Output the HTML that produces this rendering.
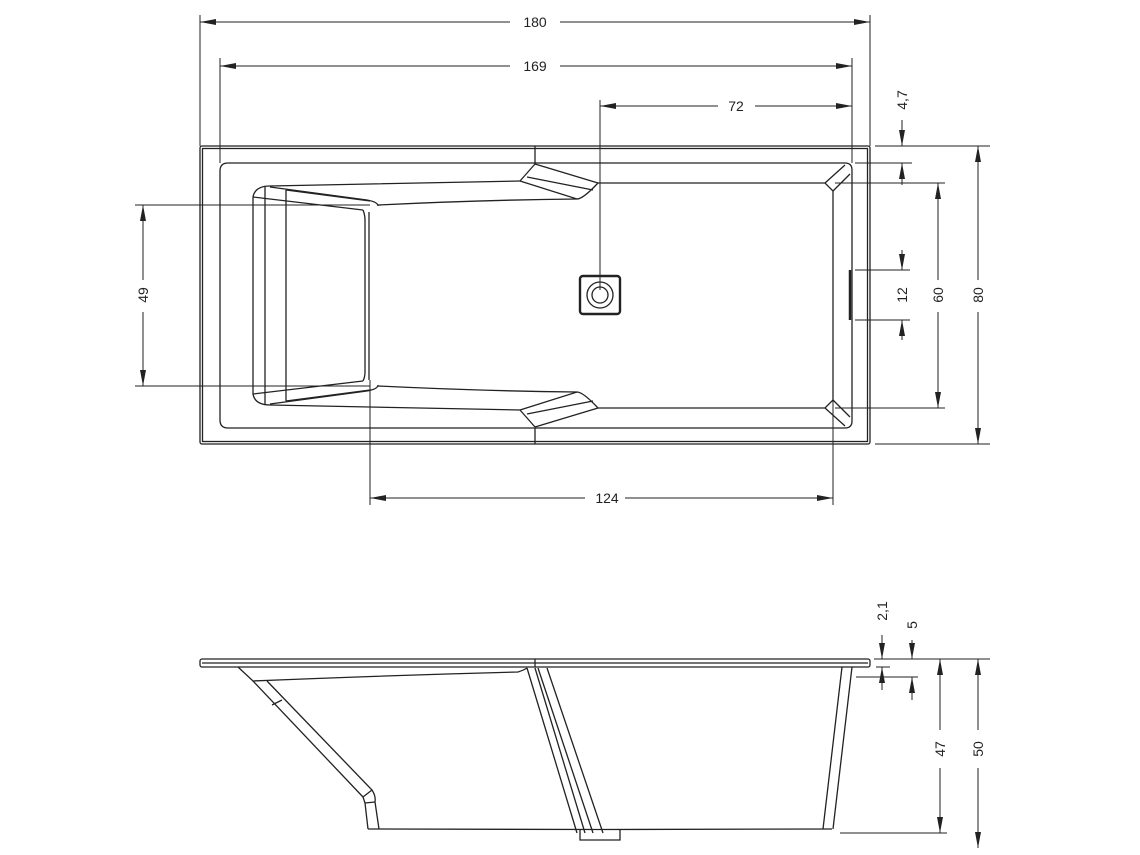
<!DOCTYPE html>
<html><head><meta charset="utf-8"><style>
html,body{margin:0;padding:0;background:#fff;}
svg{display:block;}
text{font-family:"Liberation Sans",sans-serif;font-size:14px;fill:#222;}
</style></head><body>
<svg width="1140" height="855" viewBox="0 0 1140 855" xmlns="http://www.w3.org/2000/svg">
<defs>
<marker id="a" viewBox="0 0 16 6" refX="16" refY="3" markerWidth="16" markerHeight="6" markerUnits="userSpaceOnUse" orient="auto-start-reverse">
<path d="M0,0 L16,3 L0,6 z" fill="#222"/>
</marker>
</defs>
<g fill="none" stroke="#222" stroke-width="1.3">
<!-- TOP VIEW -->
<rect x="200" y="146" width="670" height="298" rx="2"/>
<rect x="202.5" y="148.5" width="665" height="293"/>
<line x1="535" y1="146" x2="535" y2="164"/>
<line x1="535" y1="428" x2="535" y2="444"/>
<path d="M535,163 H845 Q852,163 852,170 V421 Q852,428 845,428 H535"/>
<path d="M535,163 H228 Q220,163 220,171 V420 Q220,428 228,428 H535"/>
<path d="M535,164 L520,181"/>
<path d="M535,164 L598,183"/>
<path d="M527,177 L593,190"/>
<path d="M520,181 L577,199 Q583,199 598,183"/>
<path d="M535,427 L520,410"/>
<path d="M535,427 L598,408"/>
<path d="M527,414 L593,401"/>
<path d="M520,410 L577,392 Q583,392 598,408"/>
<path d="M598,183 H825 L833,191 V400 L825,408 H598"/>
<path d="M825,183 L845,165 M833,191 L850,174"/>
<path d="M825,408 L845,426 M833,400 L850,417"/>
<path d="M520,181 Q400,183 270,186 Q255,186 253,197 V394 Q255,405 270,405 Q400,408 520,410"/>
<line x1="265" y1="187" x2="265" y2="404"/>
<line x1="286" y1="190" x2="286" y2="401"/>
<path d="M253,197 L363,210 M270,187 L367,200 M286,190 L370,201"/>
<path d="M253,394 L363,381 M270,404 L367,391 M286,401 L370,390"/>
<path d="M367,200 Q378,202 378,206 M363,210 Q365,215 365,220 V372 Q365,377 363,381"/>
<line x1="369" y1="212" x2="369" y2="380"/>
<path d="M367,391 Q378,389 378,385"/>
<path d="M378,205 Q480,200 577,199"/>
<path d="M378,386 Q480,391 577,392"/>
<rect x="580" y="276" width="40" height="38" rx="3" stroke-width="2.4"/>
<circle cx="600" cy="295" r="13"/>
<circle cx="600" cy="295" r="8"/>
<line x1="850" y1="270" x2="850" y2="320" stroke-width="2.5"/>

<!-- SIDE VIEW -->
<rect x="200" y="659" width="670" height="8" rx="2"/>
<line x1="202" y1="663" x2="868" y2="663"/>
<line x1="535" y1="659" x2="535" y2="667"/>
<path d="M238,667 L253,681 Q400,675 518,672 Q524,670 527,668"/>
<path d="M253,681 L363,797 L365,803 L368,829"/>
<path d="M267,681 L372,790 Q376,796 375,802 L379,829"/>
<path d="M363,797 L372,790 M365,803 L375,802"/>
<path d="M272,705 L282,700"/>
<path d="M368,829 Q600,830 832,829"/>
<path d="M527,668 L577,833 M535,668 L585,833 M538,668 L593,833 M547,668 L603,833"/>
<path d="M580,830 V840 H620 V830"/>
<path d="M842,667 L823,829 M852,667 L833,829"/>
</g>

<g stroke="#222" stroke-width="1" fill="none">
<line x1="200" y1="15" x2="200" y2="146"/><line x1="870" y1="15" x2="870" y2="146"/>
<line x1="220" y1="58" x2="220" y2="163"/><line x1="852" y1="58" x2="852" y2="163"/>
<line x1="600" y1="100" x2="600" y2="290"/>
<line x1="200" y1="22" x2="510" y2="22" marker-start="url(#a)"/><line x1="560" y1="22" x2="870" y2="22" marker-end="url(#a)"/>
<line x1="220" y1="66" x2="510" y2="66" marker-start="url(#a)"/><line x1="560" y1="66" x2="852" y2="66" marker-end="url(#a)"/>
<line x1="600" y1="106" x2="718" y2="106" marker-start="url(#a)"/><line x1="755" y1="106" x2="852" y2="106" marker-end="url(#a)"/>
<line x1="875" y1="146" x2="912" y2="146"/><line x1="855" y1="163" x2="912" y2="163"/>
<line x1="902" y1="120" x2="902" y2="146" marker-end="url(#a)"/>
<line x1="902" y1="185" x2="902" y2="163" marker-end="url(#a)"/>
<line x1="875" y1="146" x2="990" y2="146"/><line x1="875" y1="444" x2="990" y2="444"/>
<line x1="978" y1="146" x2="978" y2="280" marker-start="url(#a)"/><line x1="978" y1="312" x2="978" y2="444" marker-end="url(#a)"/>
<line x1="835" y1="183" x2="945" y2="183"/><line x1="835" y1="408" x2="945" y2="408"/>
<line x1="938" y1="183" x2="938" y2="280" marker-start="url(#a)"/><line x1="938" y1="312" x2="938" y2="408" marker-end="url(#a)"/>
<line x1="855" y1="270" x2="910" y2="270"/><line x1="855" y1="320" x2="910" y2="320"/>
<line x1="902" y1="250" x2="902" y2="270" marker-end="url(#a)"/>
<line x1="902" y1="340" x2="902" y2="320" marker-end="url(#a)"/>
<line x1="135" y1="205" x2="370" y2="205"/><line x1="135" y1="386" x2="370" y2="386"/>
<line x1="143" y1="205" x2="143" y2="280" marker-start="url(#a)"/><line x1="143" y1="312" x2="143" y2="386" marker-end="url(#a)"/>
<line x1="370" y1="380" x2="370" y2="505"/><line x1="833" y1="400" x2="833" y2="505"/>
<line x1="370" y1="498" x2="585" y2="498" marker-start="url(#a)"/><line x1="625" y1="498" x2="833" y2="498" marker-end="url(#a)"/>
<line x1="874" y1="659" x2="990" y2="659"/>
<line x1="876" y1="667" x2="890" y2="667"/>
<line x1="856" y1="677" x2="918" y2="677"/>
<line x1="840" y1="833" x2="947" y2="833"/>
<line x1="882" y1="635" x2="882" y2="659" marker-end="url(#a)"/>
<line x1="882" y1="690" x2="882" y2="667" marker-end="url(#a)"/>
<line x1="912" y1="640" x2="912" y2="659" marker-end="url(#a)"/>
<line x1="912" y1="700" x2="912" y2="677" marker-end="url(#a)"/>
<line x1="940" y1="659" x2="940" y2="730" marker-start="url(#a)"/><line x1="940" y1="768" x2="940" y2="833" marker-end="url(#a)"/>
<line x1="978" y1="659" x2="978" y2="730" marker-start="url(#a)"/><line x1="978" y1="768" x2="978" y2="848" marker-end="url(#a)"/>
</g>

<g>
<text x="535" y="27" text-anchor="middle">180</text>
<text x="535" y="71" text-anchor="middle">169</text>
<text x="736" y="111" text-anchor="middle">72</text>
<text x="607" y="503" text-anchor="middle">124</text>
<text transform="translate(907,100) rotate(-90)" text-anchor="middle">4,7</text>
<text transform="translate(983,295) rotate(-90)" text-anchor="middle">80</text>
<text transform="translate(943,295) rotate(-90)" text-anchor="middle">60</text>
<text transform="translate(907,295) rotate(-90)" text-anchor="middle">12</text>
<text transform="translate(148,295) rotate(-90)" text-anchor="middle">49</text>
<text transform="translate(887,611) rotate(-90)" text-anchor="middle">2,1</text>
<text transform="translate(917,625) rotate(-90)" text-anchor="middle">5</text>
<text transform="translate(945,749) rotate(-90)" text-anchor="middle">47</text>
<text transform="translate(983,749) rotate(-90)" text-anchor="middle">50</text>
</g>
</svg>
</body></html>
